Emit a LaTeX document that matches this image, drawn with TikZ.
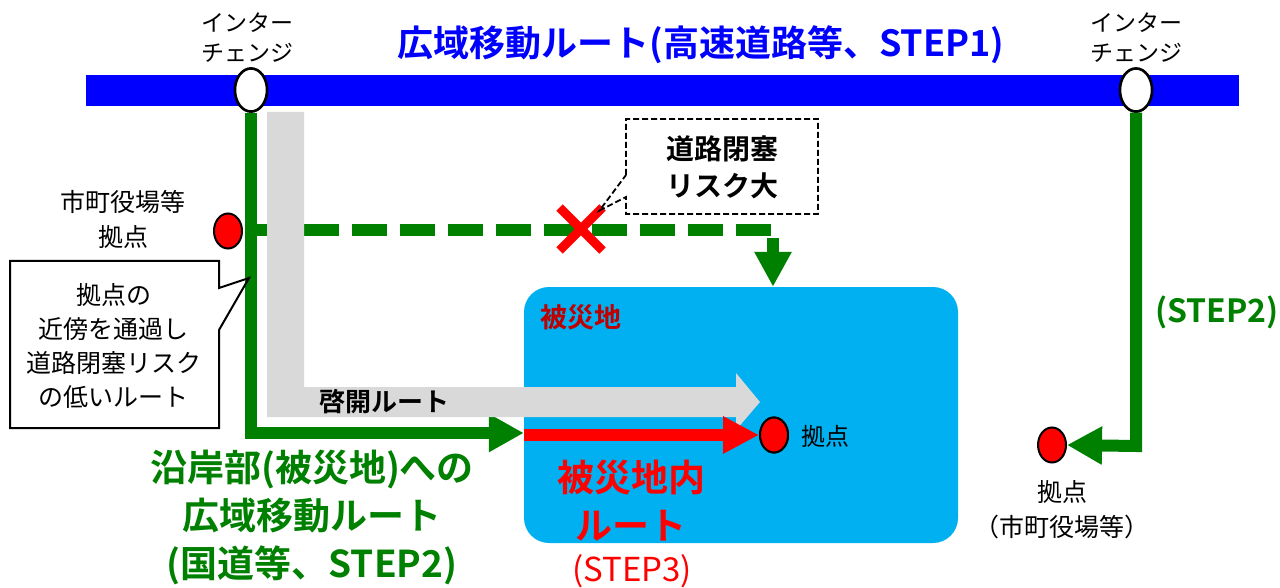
\documentclass[tikz,border=0pt]{standalone}
\usepackage{fontspec}
\setmainfont{Noto Sans CJK JP}[BoldFont={Noto Sans CJK JP Bold}]
\usetikzlibrary{arrows.meta,shapes.geometric,shapes.misc}
\definecolor{roadblue}{RGB}{0,0,255}
\definecolor{routegreen}{RGB}{0,128,0}
\definecolor{areablue}{RGB}{0,176,240}
\definecolor{opengray}{RGB}{217,217,217}
\definecolor{areared}{RGB}{192,0,0}
\newcommand{\fs}[2]{\fontsize{#1}{#2}\selectfont}
\begin{document}
\begin{tikzpicture}[x=1pt,y=-1pt,
  route/.style={line width=12, routegreen},
  bighead/.style={-{Triangle[length=35pt,width=36pt]}},
  base/.style={ellipse, draw, line width=2, fill=red, minimum width=28, minimum height=35, inner sep=0},
  ic/.style={ellipse, draw, line width=2.5, fill=white, minimum width=32, minimum height=43, inner sep=0},
  lbl/.style={align=center, inner sep=0}]
\useasboundingbox (0,0) rectangle (1280,588);
% expressway and affected area
\fill[roadblue] (86,75) rectangle (1239,106);
\node[fill=areablue, rounded corners=25, minimum width=434, minimum height=256, inner sep=0] (area) at (741,415){};
\node[lbl, font=\fs{27}{30}\bfseries, text=areared] (areaname) at (581,317){被災地};
% bases and interchanges
\node[base] (base0) at (228,231){};
\node[base] (base1) at (774,435){};
\node[base] (base2) at (1052,445){};
\node[ic] (ic0) at (251,90){};
\node[ic] (ic1) at (1136,90){};
\coordinate (bend0) at (251,433);
\coordinate (bend1) at (1136,446);
\coordinate (risk0) at (251,230);
\coordinate (risk1) at (773,230);
% routes
\draw[route, bighead] (ic0.south) -- (bend0) -- (area.west |- bend0);
\draw[route, dash pattern=on 35pt off 13pt, dash phase=43pt] (risk0) -- ([xshift=2pt]risk1);
\draw[route, -{Triangle[length=35pt,width=35pt]}] ([yshift=-8pt]risk1) -- (risk1 |- area.north);
\draw[route, bighead] (ic1.south) -- (bend1) -- (base2.east);
\fill[opengray] (267,112) -- (304,112) -- (304,387) -- (736,387) -- (736,373) -- (760,402)
  -- (736,430) -- (736,417) -- (267,417) -- cycle;
\draw[line width=12, red, -{Triangle[length=36pt,width=35pt]}] (area.west |- base1) -- (base1.west);
\node[base] at (base1){};
\node[ic] at (ic0){};
\node[ic] at (ic1){};
\node[cross out, draw=red, line width=9, minimum size=34, inner sep=0] (closure) at (581,229){};
% callouts
\draw[dashed, dash pattern=on 6pt off 3pt, line width=1.8] (626,175) -- (626,119) -- (818,119)
  -- (818,214) -- (626,214) -- (626,197) -- ([xshift=-3pt,yshift=-3pt]closure.north east) -- cycle;
\node[lbl, font=\fs{28}{37}\bfseries] (risk) at (722,167){道路閉塞\\リスク大};
\draw[line width=2] (219,288) -- (219,261) -- (10,261) -- (10,428) -- (219,428) -- (219,330)
  -- (249,278) -- cycle;
\node[lbl, font=\fs{25}{34}] (note) at (114,346){拠点の\\近傍を通過し\\道路閉塞リスク\\の低いルート};
% labels
\node[lbl, font=\fs{36}{40}\bfseries, text=roadblue] (title) at (701,45){広域移動ルート(高速道路等、STEP1)};
\node[lbl, font=\fs{23}{30}] (ic0name) at (247,38){インター\\チェンジ};
\node[lbl, font=\fs{23}{30}] (ic1name) at (1136,38){インター\\チェンジ};
\node[lbl, font=\fs{25}{35}] (base0name) at (123,219){市町役場等\\拠点};
\node[lbl, font=\fs{24}{30}, anchor=west] (base1name) at (801,436){拠点};
\node[lbl, font=\fs{25}{35}] (base2name) at (1062,510){拠点\\（市町役場等）};
\node[lbl, font=\fs{26}{30}\bfseries] (openroute) at (384,402){啓開ルート};
\node[lbl, font=\fs{37}{48}\bfseries, text=routegreen] (coastroute) at (312,518){沿岸部(被災地)への\\広域移動ルート\\(国道等、STEP2)};
\node[lbl, font=\fs{32}{36}\bfseries, text=routegreen] (step2) at (1217,312){(STEP2)};
\node[lbl, font=\fs{37}{48}\bfseries, text=red] (inroute) at (631,501){被災地内\\ルート};
\node[lbl, font=\fs{33}{36}, text=red] (step3) at (632,571){(STEP3)};
\end{tikzpicture}
\end{document}
